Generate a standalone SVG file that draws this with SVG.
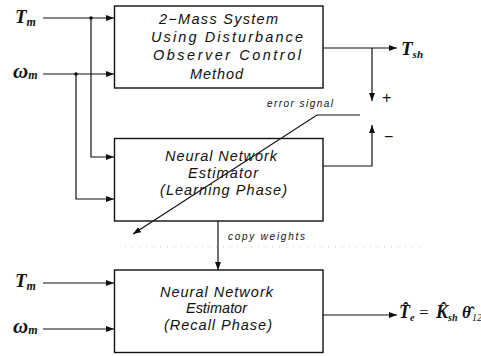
<svg xmlns="http://www.w3.org/2000/svg" width="481" height="356" viewBox="0 0 481 356">
<style>
.box{fill:none;stroke:#111;stroke-width:1.4}
.ln{fill:none;stroke:#111;stroke-width:1.2}
.bt{font-family:"Liberation Sans",Arial,sans-serif;font-style:italic;font-size:14.5px;fill:#111}
.sm{font-family:"Liberation Sans",Arial,sans-serif;font-style:italic;font-size:10px;fill:#111}
.mt{font-family:"Liberation Serif","Times New Roman",serif;font-style:italic;font-weight:bold;fill:#111}
.pm{font-family:"Liberation Sans",Arial,sans-serif;font-size:16px;fill:#111}
</style>
<defs>
<marker id="ah" viewBox="0 0 8 6" refX="8" refY="3" markerWidth="8" markerHeight="6" markerUnits="userSpaceOnUse" orient="auto">
<path d="M0,0 L8,3 L0,6 Z" fill="#111"/>
</marker>
</defs>
<rect width="481" height="356" fill="#fff"/>

<g id="labels">
<text class="mt" x="15" y="23" font-size="19">T<tspan font-size="12" dy="3">m</tspan></text>
<text class="mt" x="13" y="78" font-size="21">ω<tspan font-size="12" dy="1">m</tspan></text>
<text class="mt" x="15" y="287" font-size="19">T<tspan font-size="12" dy="3">m</tspan></text>
<text class="mt" x="13" y="333" font-size="21">ω<tspan font-size="12" dy="1">m</tspan></text>
<text class="mt" x="401" y="55" font-size="19">T<tspan font-size="11" dy="3">sh</tspan></text>
<text class="mt" font-size="18"><tspan x="399" y="318">T̂</tspan><tspan font-size="10" y="321">e</tspan><tspan x="419" y="318" font-weight="normal" font-style="normal" font-size="17">=</tspan><tspan x="436" y="318">K̂</tspan><tspan font-size="10" y="321">sh</tspan><tspan x="462" y="318" font-size="17">θ̂</tspan><tspan x="472" y="321" font-size="10" font-weight="normal">12</tspan></text>
<text class="pm" x="382" y="103">+</text>
<text class="pm" x="384" y="142">−</text>
</g>

<g id="system">
<rect class="box" x="114.5" y="6" width="208.5" height="82"/>
<text class="bt" x="159" y="24" textLength="119" lengthAdjust="spacing">2−Mass System</text>
<text class="bt" x="151" y="42" textLength="152" lengthAdjust="spacing">Using Disturbance</text>
<text class="bt" x="153" y="60" textLength="148" lengthAdjust="spacing">Observer Control</text>
<text class="bt" x="190" y="79" textLength="53" lengthAdjust="spacing">Method</text>
</g>

<g id="learning">
<rect class="box" x="114.5" y="138.5" width="208.5" height="82.5"/>
<text class="bt" x="165" y="161" textLength="112" lengthAdjust="spacing">Neural Network</text>
<text class="bt" x="188" y="178" textLength="70" lengthAdjust="spacing">Estimator</text>
<text class="bt" x="160" y="195" textLength="127" lengthAdjust="spacing">(Learning Phase)</text>
</g>

<g id="recall">
<rect class="box" x="114.5" y="270" width="208.5" height="82.5"/>
<text class="bt" x="160" y="297" textLength="113" lengthAdjust="spacing">Neural Network</text>
<text class="bt" x="186" y="313" textLength="61" lengthAdjust="spacing">Estimator</text>
<text class="bt" x="164" y="330" textLength="108" lengthAdjust="spacing">(Recall Phase)</text>
</g>

<g id="connectors">
<path class="ln" d="M43,18 H114" marker-end="url(#ah)"/>
<path class="ln" d="M43,74 H114" marker-end="url(#ah)"/>
<path class="ln" d="M91,18 V157 H114" marker-end="url(#ah)"/>
<path class="ln" d="M76,74 V199 H114" marker-end="url(#ah)"/>
<circle cx="91" cy="18" r="1.8" fill="#111"/>
<circle cx="76" cy="74" r="1.8" fill="#111"/>
<path class="ln" d="M43,283 H114" marker-end="url(#ah)"/>
<path class="ln" d="M43,329 H114" marker-end="url(#ah)"/>
<path class="ln" d="M323,48 H397" marker-end="url(#ah)"/>
<path class="ln" d="M372,48 V101" marker-end="url(#ah)"/>
<path class="ln" d="M323,166 H372 V125" marker-end="url(#ah)"/>
<path class="ln" d="M360,115 H317 L133,234" marker-end="url(#ah)"/>
<path class="ln" d="M218,221 V270" marker-end="url(#ah)"/>
<path d="M125,247 H425" fill="none" stroke="#bbb" stroke-width="0.8" stroke-dasharray="1 6"/>
<path class="ln" d="M323,315 H397" marker-end="url(#ah)"/>
<text class="sm" x="267" y="107" textLength="66" lengthAdjust="spacing">error signal</text>
<text class="sm" x="228" y="240" textLength="77" lengthAdjust="spacing">copy weights</text>
</g>
</svg>
